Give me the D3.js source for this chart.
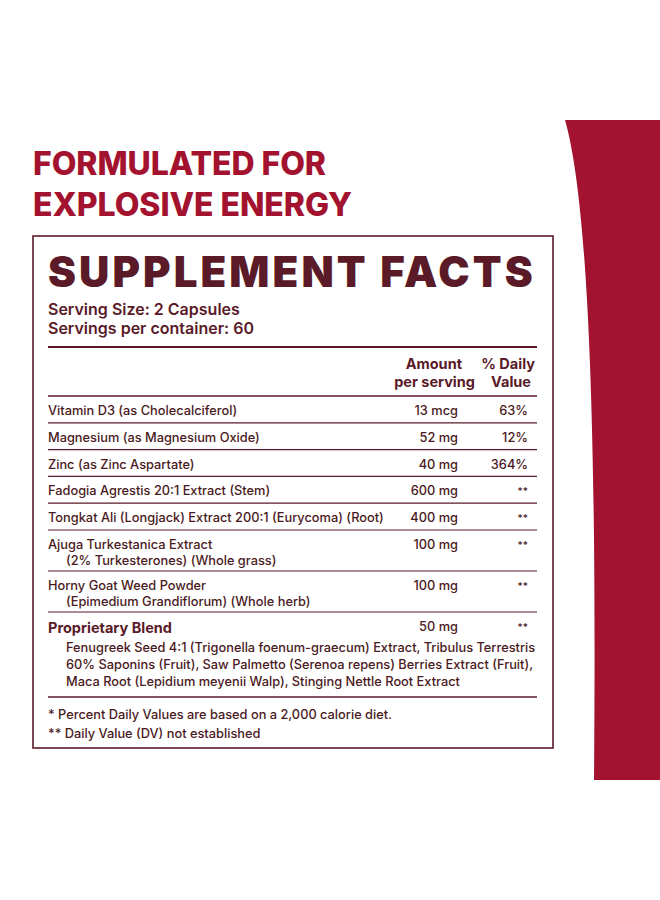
<!DOCTYPE html>
<html><head><meta charset="utf-8">
<script src="https://cdn.jsdelivr.net/npm/d3@7"></script>
<style>body{margin:0;background:#fff}svg{display:block}text{font-family:Inter,"Noto Sans",sans-serif}</style>
</head><body><svg id="c" width="660" height="900"></svg>
<script>
const ingredients = [
  ["Vitamin D3 (as Cholecalciferol)"],
  ["Magnesium (as Magnesium Oxide)"],
  ["Zinc (as Zinc Aspartate)"],
  ["Fadogia Agrestis 20:1 Extract (Stem)"],
  ["Tongkat Ali (Longjack) Extract 200:1 (Eurycoma) (Root)"],
  ["Ajuga Turkestanica Extract", "(2% Turkesterones) (Whole grass)"],
  ["Horny Goat Weed Powder", "(Epimedium Grandiflorum) (Whole herb)"]
];
const amounts = ["13 mcg","52 mg","40 mg","600 mg","400 mg","100 mg","100 mg"];
const dailyValues = ["63%","12%","364%","**","**","**","**"];
const blendName = "Proprietary Blend", blendAmount = "50 mg", blendDV = "**";
const blendLines = ["Fenugreek Seed 4:1 (Trigonella foenum-graecum) Extract, Tribulus Terrestris",
 "60% Saponins (Fruit), Saw Palmetto (Serenoa repens) Berries Extract (Fruit),",
 "Maca Root (Lepidium meyenii Walp), Stinging Nettle Root Extract"];
const footnotes = ["* Percent Daily Values are based on a 2,000 calorie diet.","** Daily Value (DV) not established"];

const red="#a3132f", dark="#5a1a28", txt="#4a1a22";
const svg=d3.select("#c");
svg.append("path").attr("d","M565,120 C588,200 597,420 594,780 L660,780 L660,120 Z").attr("fill",red);
svg.append("text").attr("x",33).attr("y",175).attr("fill",red).attr("font-size",32).attr("font-weight",800).attr("textLength",293).text("FORMULATED FOR");
svg.append("text").attr("x",33).attr("y",216).attr("fill",red).attr("font-size",32).attr("font-weight",800).attr("textLength",319).text("EXPLOSIVE ENERGY");
svg.append("rect").attr("x",33).attr("y",236).attr("width",520).attr("height",512).attr("fill","none").attr("stroke",dark).attr("stroke-width",1.6);
svg.append("text").attr("x",48).attr("y",287).attr("fill",dark).attr("font-size",42).attr("font-weight",900).attr("letter-spacing",2.3).attr("textLength",487).text("SUPPLEMENT FACTS");
svg.append("text").attr("x",48).attr("y",315).attr("fill",dark).attr("font-size",16).attr("font-weight",600).text("Serving Size: 2 Capsules");
svg.append("text").attr("x",48).attr("y",334).attr("fill",dark).attr("font-size",16).attr("font-weight",600).text("Servings per container: 60");
const line=(y,w)=>svg.append("line").attr("x1",48).attr("x2",537).attr("y1",y).attr("y2",y).attr("stroke",dark).attr("stroke-width",w);
line(347,2.2);
const hs=14.5;
svg.append("text").attr("x",462).attr("y",369).attr("text-anchor","end").attr("fill",dark).attr("font-size",hs).attr("font-weight",700).text("Amount");
svg.append("text").attr("x",475).attr("y",387).attr("text-anchor","end").attr("fill",dark).attr("font-size",hs).attr("font-weight",700).text("per serving");
svg.append("text").attr("x",535).attr("y",369).attr("text-anchor","end").attr("fill",dark).attr("font-size",hs).attr("font-weight",700).text("% Daily");
svg.append("text").attr("x",511).attr("y",387).attr("text-anchor","middle").attr("fill",dark).attr("font-size",hs).attr("font-weight",700).text("Value");
line(396,1.6);
const rowH=d=>d.length>1?41:26.8;
let y=396;
const rows=ingredients.map((d,i)=>{const r={d,i,top:y};y+=rowH(d);return r;});
const g=svg.append("g").attr("fill",txt).attr("font-size",12.8).attr("font-weight",500);
rows.forEach(r=>{
  r.d.forEach((t,j)=>g.append("text").attr("x",j?66:48).attr("y",r.top+19+j*16).text(t));
  g.append("text").attr("x",458).attr("y",r.top+19).attr("text-anchor","end").text(amounts[r.i]);
  g.append("text").attr("x",528).attr("y",r.top+19).attr("text-anchor","end").attr("font-size",dailyValues[r.i]==="**"?10:12.8).text(dailyValues[r.i]);
  line(r.top+rowH(r.d),1.2);
});
const bt=y;
svg.append("text").attr("x",48).attr("y",bt+21).attr("fill",dark).attr("font-size",14.5).attr("font-weight",700).text(blendName);
g.append("text").attr("x",458).attr("y",bt+19).attr("text-anchor","end").text(blendAmount);
g.append("text").attr("x",528).attr("y",bt+19).attr("text-anchor","end").attr("font-size",10).text(blendDV);
blendLines.forEach((t,j)=>g.append("text").attr("x",66).attr("y",bt+40+j*17).text(t));
line(bt+85,1.6);
footnotes.forEach((t,j)=>g.append("text").attr("x",48).attr("y",bt+107+j*19).text(t));
</script></body></html>
